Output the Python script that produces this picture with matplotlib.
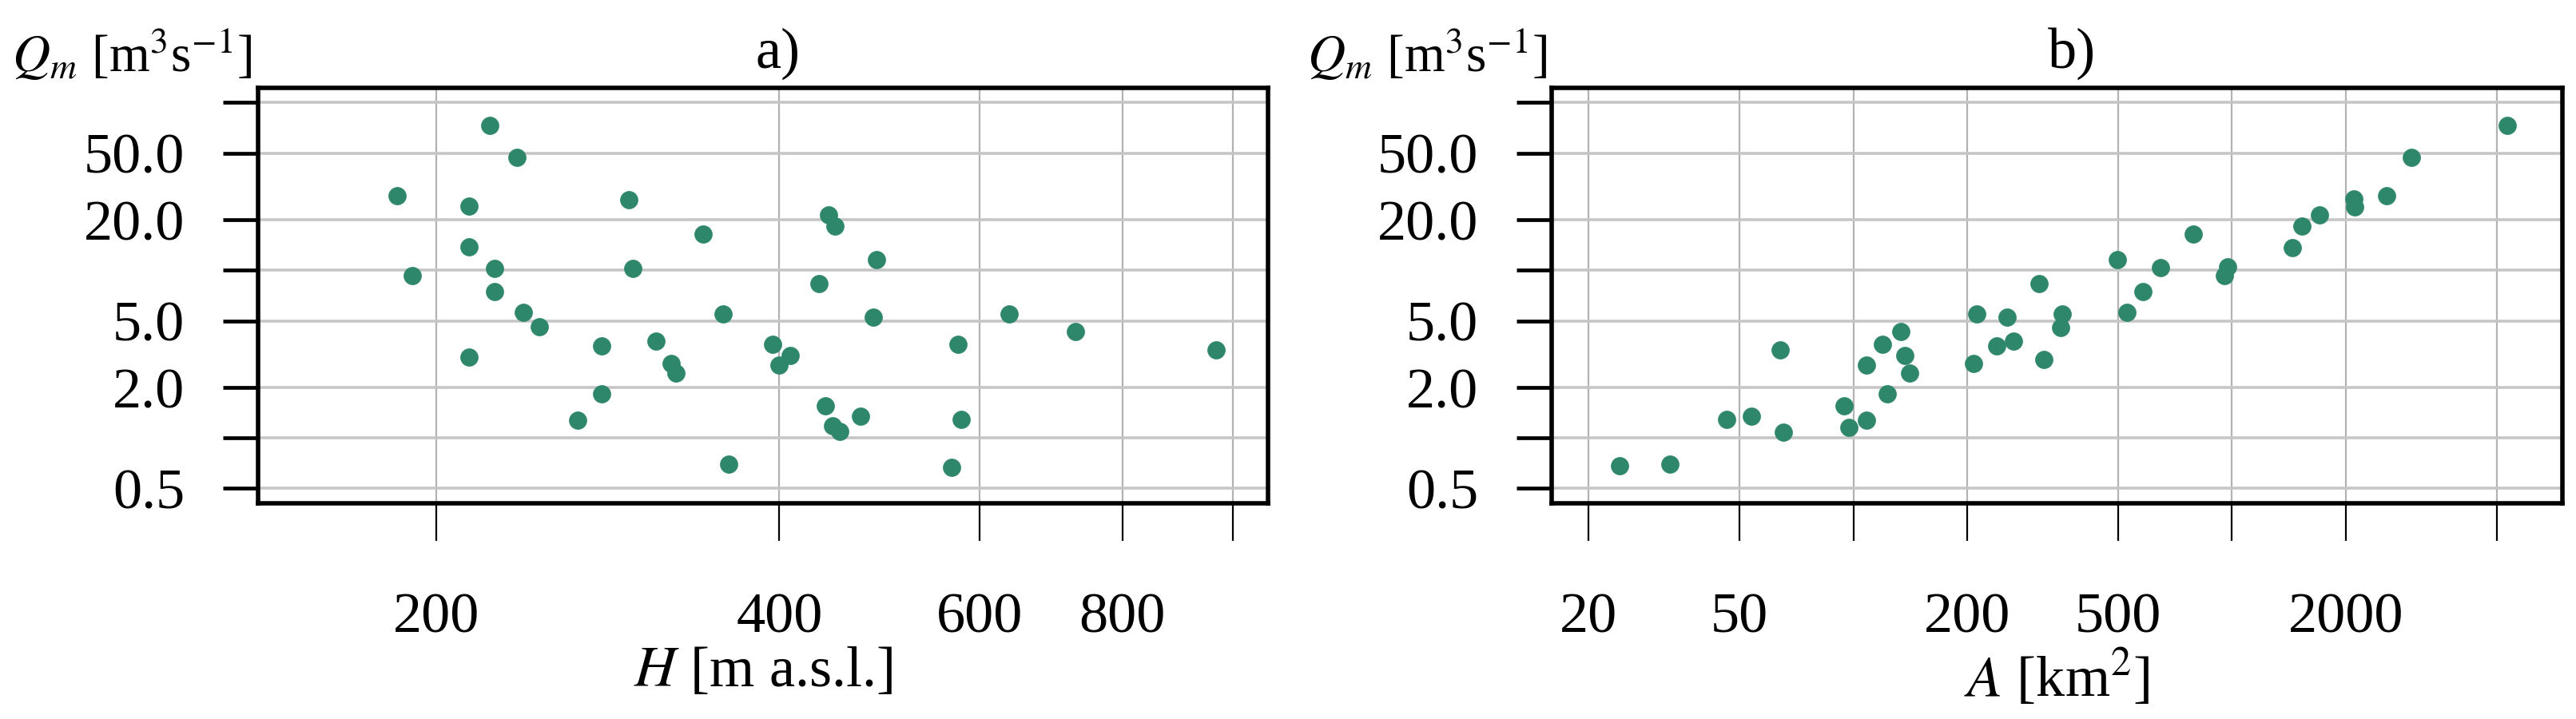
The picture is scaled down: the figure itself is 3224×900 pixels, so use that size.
import numpy as np
import matplotlib
matplotlib.use("Agg")
from matplotlib import pyplot as plt
from matplotlib.ticker import NullLocator

plt.rcParams["font.family"] = ["Liberation Serif", "DejaVu Serif"]
plt.rcParams["mathtext.fontset"] = "stix"

# panel a) altitude H [m a.s.l.] vs mean discharge
H = [222.7, 235.4, 184.8, 213.7, 295.2, 343.0, 213.7, 190.4, 224.9, 297.5,
     224.9, 238.5, 246.2, 357.3, 279.3, 312.0, 321.3, 324.4, 213.7, 279.3,
     266.0, 361.3, 441.9, 447.7, 486.9, 433.4, 483.7, 636.8, 727.3, 967.6,
     574.4, 394.8, 408.7, 400.0, 439.0, 445.4, 452.1, 471.4, 578.1, 567.0]
Q_a = [73.3, 46.9, 27.8, 24.0, 26.2, 16.5, 13.8, 9.30, 10.3, 10.3,
       7.46, 5.61, 4.59, 5.47, 3.55, 3.80, 2.78, 2.43, 3.05, 1.84,
       1.27, 0.70, 21.3, 18.4, 11.6, 8.33, 5.28, 5.51, 4.31, 3.34,
       3.63, 3.63, 3.10, 2.73, 1.55, 1.18, 1.09, 1.35, 1.29, 0.669]

# panel b) catchment area A [km2] vs mean discharge
A = [24.1, 32.7, 46.3, 53.7, 65.3, 64.0, 94.3, 97.1, 108.2, 108.2,
     119.4, 133.7, 136.9, 141.1, 122.9, 208.0, 212.1, 255.1, 239.6, 265.3,
     318.5, 309.3, 355.6, 352.0, 497.0, 527.5, 582.0, 648.5, 789.9, 975.0,
     955.9, 1440, 1533, 1702, 2094, 2106, 2564, 2974, 5336]
Q_b = [0.681, 0.701, 1.29, 1.35, 1.08, 3.34, 1.55, 1.16, 1.27, 2.73,
       3.63, 4.31, 3.10, 2.45, 1.84, 2.78, 5.47, 5.28, 3.55, 3.80,
       2.94, 8.33, 5.47, 4.56, 11.6, 5.63, 7.46, 10.4, 16.5, 10.5,
       9.30, 13.7, 18.4, 21.3, 26.5, 23.8, 27.8, 46.9, 73.3]

y_ticks = [0.5, 1, 2, 5, 10, 20, 50, 100]
y_labels = ["0.5", "", "2.0", "5.0", "", "20.0", "50.0", ""]
h_ticks = [200, 400, 600, 800, 1000]
h_labels = ["200", "400", "600", "800", ""]
a_ticks = [20, 50, 100, 200, 500, 1000, 2000, 5000]
a_labels = ["20", "50", "", "200", "500", "", "2000", ""]

dot_color = "#2f876b"
fs = 52

fig = plt.figure(figsize=(32.24, 9), dpi=100)
ax1 = fig.add_axes([323 / 3224, 1 - 630 / 900, 1264 / 3224, 520 / 900])
ax2 = fig.add_axes([1942 / 3224, 1 - 630 / 900, 1265 / 3224, 520 / 900])

panels = [
    (ax1, H, Q_a, h_ticks, h_labels, (139.5, 1074), r"$H$ [m a.s.l.]", "a)", 15),
    (ax2, A, Q_b, a_ticks, a_labels, (15.96, 7460), r"$A$ [km$^2$]", "b)", 1636),
]

for ax, x, y, xt, xl, xlim, xlab, title, ylab_x in panels:
    ax.scatter(x, y, s=250, color=dot_color, edgecolors=dot_color, linewidths=0.5, zorder=3)
    ax.set_xscale("log")
    ax.set_yscale("log")
    ax.set_xlim(xlim)
    ax.set_ylim(0.408, 122.3)
    ax.set_xticks(xt)
    ax.set_xticklabels(xl)
    ax.set_yticks(y_ticks)
    ax.set_yticklabels(y_labels)
    ax.xaxis.set_minor_locator(NullLocator())
    ax.yaxis.set_minor_locator(NullLocator())
    ax.tick_params(axis="y", direction="out", length=32, width=3.4, pad=34, labelsize=fs)
    ax.tick_params(axis="x", direction="out", length=34, width=1.6, pad=46, labelsize=fs)
    ax.set_axisbelow(True)
    ax.grid(axis="y", color="#c6c6c6", linewidth=2.6)
    ax.grid(axis="x", color="#b2b2b2", linewidth=1.6)
    for sp in ax.spines.values():
        sp.set_linewidth(4)
        sp.set_color("black")
    ax.set_xlabel(xlab, fontsize=fs, labelpad=2)
    ax.set_title(title, fontsize=fs, x=0.515, pad=18)
    fig.text(ylab_x / 3224, 1 - 90 / 900, r"$Q_m$ [m$^3$s$^{-1}$]", fontsize=47,
             ha="left", va="baseline")

plt.savefig("out.png", dpi=100)
